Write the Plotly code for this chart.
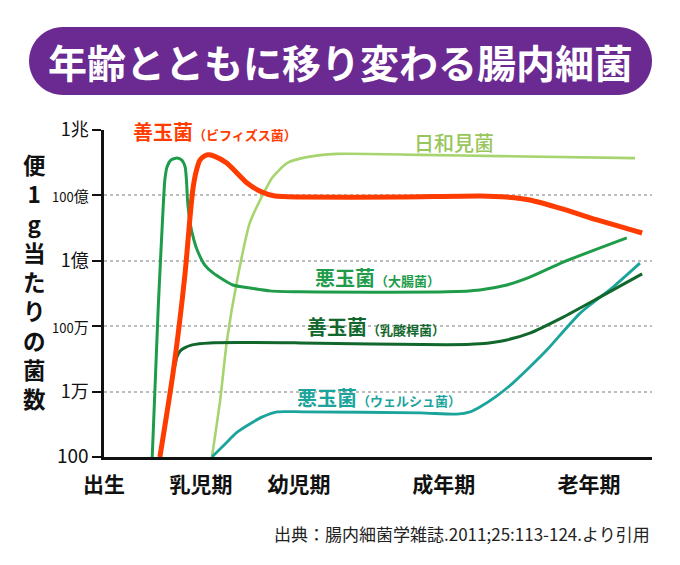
import plotly.graph_objects as go

# ---------------- data (x: life-stage scale 0-100, y: log10 of bacteria count per 1 g stool) -------------
stage_labels = ["出生", "乳児期", "幼児期", "成年期", "老年期"]
stage_pos = [0, 17.7, 35.6, 62.0, 88.5]

y_tick_exp = [2, 4, 6, 8, 10, 12]
y_tick_text = [
    "<span style='font-size:19px'>100</span>",
    "<span style='font-size:18px'>1万</span>",
    "<span style='font-size:13px'>100</span><span style='font-size:15px'>万</span>",
    "<span style='font-size:18px'>1億</span>",
    "<span style='font-size:13px'>100</span><span style='font-size:15px'>億</span>",
    "<span style='font-size:18px'>1兆</span>",
]

bifidus_x = [10.2, 12.6, 14.8, 15.7, 16.2, 16.8, 17.5, 18.3, 19.0, 20.1, 22.4, 26.1, 28.5, 31.2,
             35.8, 54.0, 68.6, 73.5, 77.7, 83.8, 90.0, 98.2]
bifidus_log = [2.0, 4.57, 7.63, 9.34, 10.17, 10.72, 11.08, 11.20, 11.24, 11.20, 10.99, 10.38, 10.13,
               9.98, 9.95, 9.95, 9.98, 9.95, 9.86, 9.58, 9.25, 8.85]

ecoli_x = [8.8, 9.9, 10.8, 11.1, 11.5, 12.2, 13.3, 14.2, 14.8, 15.05, 15.24, 15.7, 16.4, 17.0,
           18.4, 19.9, 23.5, 26.6, 30.3, 35.8, 62.6, 68.6, 73.5, 77.7, 83.8, 95.4]
ecoli_log = [2.0, 6.59, 9.65, 10.47, 10.87, 11.08, 11.14, 11.08, 10.87, 10.47, 9.86, 9.16, 8.64,
             8.33, 7.87, 7.63, 7.26, 7.17, 7.08, 7.05, 7.05, 7.11, 7.26, 7.50, 7.96, 8.70]

opportunist_x = [19.7, 21.2, 22.45, 24.3, 26.6, 28.5, 30.8, 33.4, 37.0, 42.5, 57.7, 72.3, 96.9]
opportunist_log = [2.0, 3.74, 5.58, 7.41, 9.16, 9.86, 10.56, 10.99, 11.17, 11.27, 11.24, 11.20, 11.14]

lacto_x = [10.2, 12.6, 13.0, 13.3, 13.9, 14.6, 16.1, 19.3, 35.8, 62.6, 68.6, 73.5, 77.7, 83.8, 90.5, 98.2]
lacto_log = [2.0, 4.57, 4.84, 5.06, 5.24, 5.33, 5.43, 5.49, 5.49, 5.43, 5.46, 5.58, 5.79, 6.28, 6.89, 7.60]

welchii_x = [19.7, 22.1, 24.3, 26.6, 28.8, 31.6, 36.3, 57.7, 64.4, 66.8, 68.6, 71.7, 74.6, 77.7,
             80.8, 86.9, 92.9, 97.8]
welchii_log = [2.0, 2.40, 2.76, 3.01, 3.22, 3.38, 3.38, 3.35, 3.31, 3.38, 3.53, 3.87, 4.26, 4.75,
               5.27, 6.40, 7.20, 7.93]

# ---------------- styling -------------
FONT = "Noto Sans CJK JP"
C_RED = "#FF3C00"
C_ECOLI = "#1E9C4A"
C_OPP = "#A6D46E"
C_OPP_TXT = "#98C65C"
C_LACTO = "#12682C"
C_WELCH = "#1AA49B"
C_PURPLE = "#6A2A92"

# plot area in pixels
L, R, T, B = 104, 652, 130, 457
W, H = 680, 565


def px(x):
    return (x - L) / (R - L)


def py(y):
    return (B - y) / (B - T)


def pw(v):
    return [10 ** e for e in v]


fig = go.Figure()
series = [
    (opportunist_x, opportunist_log, C_OPP, 2.6),
    (welchii_x, welchii_log, C_WELCH, 2.8),
    (lacto_x, lacto_log, C_LACTO, 3.0),
    (ecoli_x, ecoli_log, C_ECOLI, 3.0),
    (bifidus_x, bifidus_log, C_RED, 5.0),
]
for xs, ys, col, wd in series:
    fig.add_trace(go.Scatter(x=xs, y=pw(ys), mode="lines",
                             line=dict(color=col, width=wd, shape="spline", smoothing=0.6),
                             hoverinfo="skip"))

# rounded banner
r = 34
x0, x1, y0, y1 = 29, 652, 27, 95
yc = (y0 + y1) / 2
k = 0.5523 * r
pts = [
    ("M", [(x0 + r, y0)]),
    ("L", [(x1 - r, y0)]),
    ("C", [(x1 - r + k, y0), (x1, yc - k), (x1, yc)]),
    ("C", [(x1, yc + k), (x1 - r + k, y1), (x1 - r, y1)]),
    ("L", [(x0 + r, y1)]),
    ("C", [(x0 + r - k, y1), (x0, yc + k), (x0, yc)]),
    ("C", [(x0, yc - k), (x0 + r - k, y0), (x0 + r, y0)]),
]
path = ""
for cmd, ps in pts:
    path += cmd + " " + " ".join(f"{px(a):.5f},{py(b):.5f}" for a, b in ps) + " "
path += "Z"
fig.add_shape(type="path", path=path, xref="paper", yref="paper",
              fillcolor=C_PURPLE, line=dict(width=0), layer="above")

annots = []
annots.append(dict(x=px((x0 + x1) / 2), y=py(61), xref="paper", yref="paper",
                   text="<b>年齢とともに移り変わる腸内細菌</b>", showarrow=False,
                   font=dict(family=FONT, size=39, color="white"),
                   xanchor="center", yanchor="middle"))

# vertical axis title, one character per line
ytitle = "<b>" + "<br>".join(["便", "1", "g", "当", "た", "り", "の", "菌", "数"]) + "</b>"
annots.append(dict(x=px(34), y=py(281), xref="paper", yref="paper",
                   text=ytitle, showarrow=False,
                   font=dict(family=FONT, size=22.5, color="#111111"),
                   xanchor="center", yanchor="middle"))

# series labels
labels = [
    (131, 131, "<b>善玉菌</b><span style='font-size:13px'><b>（ビフィズス菌）</b></span>", C_RED, 20, None),
    (412, 142, "日和見菌", C_OPP_TXT, 20, 500),
    (313, 277, "<b>悪玉菌</b><span style='font-size:13px'><b>（大腸菌）</b></span>", C_ECOLI, 20, None),
    (305, 326, "<b>善玉菌</b><span style='font-size:13px'><b>（乳酸桿菌）</b></span>", C_LACTO, 20, None),
    (295, 397, "<b>悪玉菌</b><span style='font-size:13px'><b>（ウェルシュ菌）</b></span>", C_WELCH, 20, None),
]
for lx, ly, txt, col, sz, wt in labels:
    f = dict(family=FONT, size=sz, color=col)
    if wt:
        f["weight"] = wt
    annots.append(dict(x=px(lx), y=py(ly), xref="paper", yref="paper", text=txt,
                       showarrow=False, font=f,
                       xanchor="left", yanchor="middle"))

# source
annots.append(dict(x=px(652), y=py(533), xref="paper", yref="paper",
                   text="出典：腸内細菌学雑誌.2011;25:113-124.より引用", showarrow=False,
                   font=dict(family=FONT, size=17, color="#222222"),
                   xanchor="right", yanchor="middle"))

fig.update_layout(
    width=W, height=H,
    margin=dict(l=L, r=W - R, t=T, b=H - B, pad=0),
    paper_bgcolor="white", plot_bgcolor="white",
    showlegend=False,
    annotations=annots,
    font=dict(family=FONT, color="#111111"),
    xaxis=dict(range=[0, 100], tickvals=stage_pos,
               ticktext=[f"<b>{s}</b>" for s in stage_labels],
               tickfont=dict(family=FONT, size=21, color="#111111"),
               showline=True, linecolor="#111111", linewidth=2.5,
               ticks="", showgrid=False, zeroline=False, ticklabelstandoff=7,
               fixedrange=True),
    yaxis=dict(type="log", range=[2, 12], tickvals=[10 ** e for e in y_tick_exp],
               ticktext=y_tick_text,
               tickfont=dict(family=FONT, size=18, color="#111111"),
               showline=True, linecolor="#111111", linewidth=2.5,
               ticks="outside", ticklen=9, tickwidth=2, tickcolor="#111111",
               showgrid=True, gridcolor="#BDBDBD", gridwidth=1.5, griddash="dot",
               zeroline=False, fixedrange=True),
)

fig.write_html("out.html", config={"displayModeBar": False},
               post_script="document.body.style.margin='0';")
